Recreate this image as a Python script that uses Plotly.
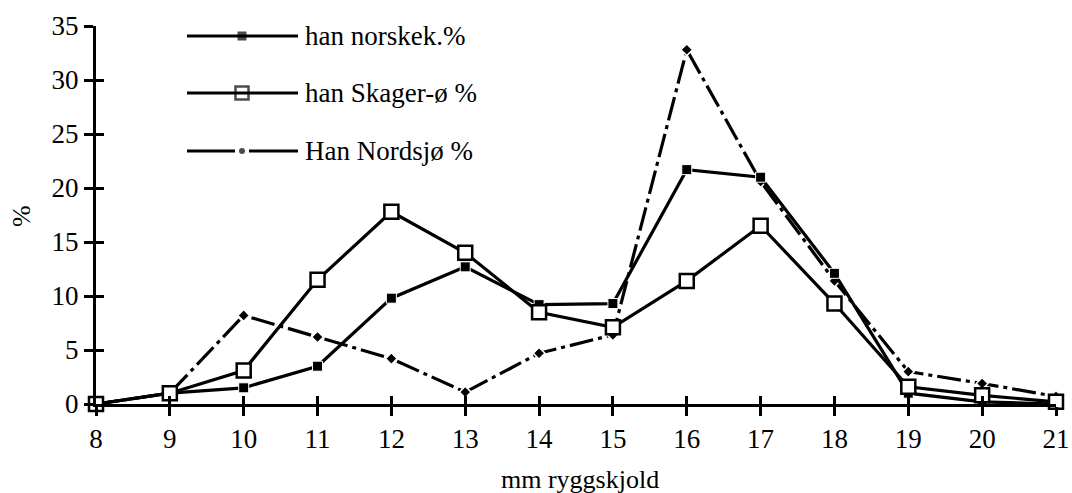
import plotly.graph_objects as go

x_mm = [8, 9, 10, 11, 12, 13, 14, 15, 16, 17, 18, 19, 20, 21]
norsk = [0, 1.0, 1.5, 3.5, 9.8, 12.7, 9.2, 9.3, 21.7, 21.0, 12.1, 1.0, 0.2, 0.0]
skager = [0, 1.0, 3.1, 11.5, 17.8, 14.0, 8.5, 7.1, 11.4, 16.5, 9.3, 1.6, 0.8, 0.2]
nordsjo = [0, 1.0, 8.2, 6.2, 4.2, 1.1, 4.7, 6.4, 32.8, 20.6, 11.4, 3.0, 1.9, 0.7]
names = ["han norskek.%", "han Skager-ø %", "Han Nordsjø %"]
x_ticks = list(range(8, 22))
y_ticks = [0, 5, 10, 15, 20, 25, 30, 35]

FONT = "Liberation Serif, Times New Roman, serif"
L, R, T, B = 96, 16, 26, 89
PW = 1072 - L - R
PH = 493 - T - B

def px_x(p):
    return (p - L) / PW

def px_y(p):
    return (493 - B - p) / PH

fig = go.Figure()

fig.add_trace(go.Scatter(x=x_mm, y=nordsjo, mode="lines+markers", name=names[2],
                         line=dict(color="black", width=3.2, dash="24px,5px,4px,5px"),
                         marker=dict(symbol="diamond", size=9, color="black",
                                     line=dict(color="white", width=1.5)),
                         cliponaxis=False, showlegend=False))
fig.add_trace(go.Scatter(x=x_mm, y=norsk, mode="lines+markers", name=names[0],
                         line=dict(color="black", width=3.2),
                         marker=dict(symbol="square", size=10, color="black",
                                     line=dict(color="white", width=1)),
                         cliponaxis=False, showlegend=False))
fig.add_trace(go.Scatter(x=x_mm, y=skager, mode="lines+markers", name=names[1],
                         line=dict(color="black", width=3.2),
                         marker=dict(symbol="square", size=14, color="white",
                                     line=dict(color="black", width=2.5)),
                         cliponaxis=False, showlegend=False))

# Manual legend (paper coords)
leg_rows = [px_y(36), px_y(93), px_y(151)]
shapes = []
annotations = []
x0, x1, xm = px_x(187), px_x(298), px_x(242)
gap = 7 / PW
for i, (yy, nm) in enumerate(zip(leg_rows, names)):
    if i == 2:
        shapes.append(dict(type="line", xref="paper", yref="paper", x0=x0, x1=xm - gap,
                           y0=yy, y1=yy, line=dict(color="black", width=3)))
        shapes.append(dict(type="line", xref="paper", yref="paper", x0=xm + gap, x1=x1,
                           y0=yy, y1=yy, line=dict(color="black", width=3)))
    else:
        shapes.append(dict(type="line", xref="paper", yref="paper", x0=x0, x1=x1,
                           y0=yy, y1=yy, line=dict(color="black", width=3)))
    annotations.append(dict(xref="paper", yref="paper", x=px_x(303), y=yy, text=nm,
                            showarrow=False, xanchor="left", yanchor="middle",
                            font=dict(family=FONT, size=27, color="black")))
annotations.append(dict(xref="paper", yref="paper", x=px_x(580), y=px_y(479),
                        text="mm ryggskjold", showarrow=False, xanchor="center",
                        yanchor="middle", font=dict(family=FONT, size=26, color="black")))
annotations.append(dict(xref="paper", yref="paper", x=px_x(21), y=px_y(216),
                        text="%", textangle=-90, showarrow=False, xanchor="center",
                        yanchor="middle", font=dict(family=FONT, size=26, color="black")))

fig.add_trace(go.Scatter(x=[xm, xm, xm], y=leg_rows, xaxis="x3", yaxis="y3",
                         mode="markers", showlegend=False, hoverinfo="skip",
                         marker=dict(symbol=["square", "square", "circle"], size=[9, 13, 6],
                                     color=["black", "white", "black"],
                                     line=dict(color="black", width=[0, 2.5, 0])),
                         cliponaxis=False))

fig.update_layout(
    width=1072, height=493,
    margin=dict(l=L, r=R, t=T, b=B, autoexpand=False),
    paper_bgcolor="white", plot_bgcolor="white",
    font=dict(family=FONT, size=27, color="black"),
    shapes=shapes, annotations=annotations,
    xaxis=dict(range=[8, 21], tickvals=x_ticks, ticks="outside", ticklen=9, tickwidth=2.5,
               tickcolor="black", showline=True, linecolor="black", linewidth=3,
               showgrid=False, zeroline=False, tickfont=dict(family=FONT, size=27),
               ticklabelstandoff=0, automargin=False),
    yaxis=dict(range=[0, 35], tickvals=y_ticks, ticks="outside", ticklen=9, tickwidth=2.5,
               tickcolor="black", showline=True, linecolor="black", linewidth=3,
               showgrid=False, zeroline=False, tickfont=dict(family=FONT, size=27),
               automargin=False),
    xaxis2=dict(range=[8, 21], tickvals=x_ticks, ticks="inside", ticklen=8, tickwidth=2.5,
                tickcolor="black", showticklabels=False, overlaying="x", anchor="y",
                showgrid=False, zeroline=False, showline=False, automargin=False),
    yaxis2=dict(range=[0, 35], tickvals=y_ticks, ticks="inside", ticklen=8, tickwidth=2.5,
                tickcolor="black", showticklabels=False, overlaying="y", anchor="x",
                showgrid=False, zeroline=False, showline=False, automargin=False),
    xaxis3=dict(range=[0, 1], domain=[0, 1], visible=False, overlaying="x", anchor="y3"),
    yaxis3=dict(range=[0, 1], domain=[0, 1], visible=False, overlaying="y", anchor="x3"),
)
fig.add_trace(go.Scatter(x=[None], y=[None], xaxis="x2", yaxis="y2", showlegend=False))

fig.write_html("out.html", config={"displayModeBar": False},
               post_script="document.body.style.margin='0px';document.body.style.padding='0px';")
